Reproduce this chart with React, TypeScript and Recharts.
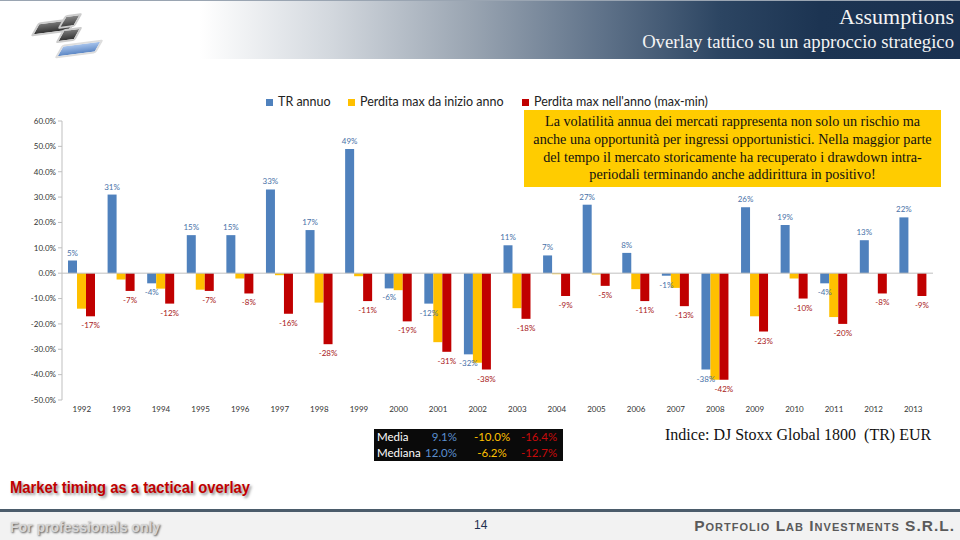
import React from 'react'
import { BarChart, Bar, XAxis, YAxis, ReferenceLine, LabelList } from 'recharts'

const years = ['1992', '1993', '1994', '1995', '1996', '1997', '1998', '1999', '2000', '2001', '2002', '2003', '2004', '2005', '2006', '2007', '2008', '2009', '2010', '2011', '2012', '2013']
const trAnnuo = [5, 31, -4, 15, 15, 33, 17, 49, -6, -12, -32, 11, 7, 27, 8, -1, -38, 26, 19, -4, 13, 22]
const perditaInizio = [-14.0, -2.5, -6.1, -6.5, -2.1, -0.8, -11.6, -1.2, -6.7, -27.2, -35.3, -13.8, -0.4, -0.5, -6.3, -5.8, -42.0, -17.0, -2.1, -17.3, 0, 0]
const perditaAnno = [-17, -7, -12, -7, -8, -16, -28, -11, -19, -31, -38, -18, -9, -5, -11, -13, -42, -23, -10, -20, -8, -9]
const yTicks = [-50, -40, -30, -20, -10, 0, 10, 20, 30, 40, 50, 60]

const legendItems = [
  { label: 'TR annuo', color: '#4F81BD', x: 266 },
  { label: 'Perdita max da inizio anno', color: '#FFC000', x: 348 },
  { label: "Perdita max nell'anno (max-min)", color: '#C00000', x: 522 },
]
const noteLines = [
  'La volatilità annua dei mercati rappresenta non solo un rischio ma',
  'anche una opportunità per ingressi opportunistici. Nella maggior parte',
  'del tempo il mercato storicamente ha recuperato i drawdown intra-',
  'periodali terminando anche addirittura in positivo!',
]
const statsRows = [
  { label: 'Media', values: ['9.1%', '-10.0%', '-16.4%'] },
  { label: 'Mediana', values: ['12.0%', '-6.2%', '-12.7%'] },
]
const statsColors = ['#5b8fd0', '#FFC000', '#c80a0a']

const data = years.map((year, i) => ({
  year,
  tr: trAnnuo[i],
  inizio: perditaInizio[i],
  anno: perditaAnno[i],
}))

const BLUE = '#4F81BD'
const YELLOW = '#FFC000'
const RED = '#C00000'

const makeLabel = (color: string) => (props: any) => {
  const { x, y, width, height, value } = props
  if (value == null) return null
  const top = Math.min(y, y + height)
  const bottom = Math.max(y, y + height)
  const cx = x + width / 2
  const ty = value >= 0 ? top - 8 : bottom + 9
  return (
    <text x={cx} y={ty} textAnchor="middle" dominantBaseline="central" fill={color} fontSize={8} fontFamily="Lato, 'Open Sans', sans-serif">
      {`${value}%`}
    </text>
  )
}

const sans = "Lato, 'Open Sans', sans-serif"
const serif = "'Liberation Serif', 'DejaVu Serif', serif"

export default function App() {
  return (
    <div style={{ position: 'absolute', left: 0, top: 0, width: 960, height: 540, background: '#fff', overflow: 'hidden' }}>
      {/* header band */}
      <div style={{
        position: 'absolute', left: 0, top: 0, width: 960, height: 58,
        background: 'linear-gradient(to right, #ffffff 0px, #ffffff 200px, #d3d8de 330px, #9aa5b2 470px, #60738a 600px, #2c4562 720px, #1c3452 820px, #1a3150 960px)',
        borderTop: '1px solid #9aa5b2',
      }} />
      {/* logo */}
      <div style={{ position: 'absolute', left: 34, top: 12, width: 70, height: 48 }}>
        <div style={{ position: 'absolute', left: 2, top: 8, width: 32, height: 10, background: 'linear-gradient(#777, #333)', border: '2px solid #ccc', transform: 'skewX(-35deg) rotate(-8deg)', borderRadius: 2 }} />
        <div style={{ position: 'absolute', left: 28, top: 2, width: 12, height: 10, background: 'linear-gradient(#888, #444)', border: '2px solid #ccc', transform: 'skewX(-35deg) rotate(-8deg)', borderRadius: 2 }} />
        <div style={{ position: 'absolute', left: 26, top: 16, width: 14, height: 10, background: 'linear-gradient(#777, #333)', border: '2px solid #ccc', transform: 'skewX(-35deg) rotate(-8deg)', borderRadius: 2 }} />
        <div style={{ position: 'absolute', left: 26, top: 30, width: 34, height: 10, background: 'linear-gradient(#a8c4ec, #5b86c4)', border: '2px solid #ddd', transform: 'skewX(-35deg) rotate(-8deg)', borderRadius: 2 }} />
      </div>
      <div style={{ position: 'absolute', right: 6, top: 4, fontFamily: serif, fontSize: 22, color: '#f4f4f4', lineHeight: '26px' }}>Assumptions</div>
      <div style={{ position: 'absolute', right: 6, top: 31, fontFamily: serif, fontSize: 18.7, color: '#f4f4f4', lineHeight: '22px' }}>Overlay tattico su un approccio strategico</div>

      {/* legend */}
      {legendItems.map(item => (
        <div key={item.label} style={{ position: 'absolute', left: item.x, top: 95, height: 14, lineHeight: '14px', display: 'flex', alignItems: 'center', fontFamily: sans, fontSize: 12.5, color: '#222', whiteSpace: 'nowrap' }}>
          <span style={{ display: 'inline-block', width: 7, height: 7, background: item.color, marginRight: 5 }} />
          {item.label}
        </div>
      ))}

      <div style={{ position: 'absolute', left: 0, top: 0 }}>
        <BarChart width={960} height={425} data={data} margin={{ top: 121, right: 27, bottom: 0, left: 0 }} barGap={0} barSize={9}>
          <XAxis dataKey="year" axisLine={false} tickLine={false} tickSize={4} tick={{ fill: '#333', fontSize: 8, fontFamily: sans }} height={25} interval={0} />
          <YAxis width={62} domain={[-50, 60]} ticks={yTicks} tickFormatter={(v: number) => `${v.toFixed(1)}%`} axisLine={{ stroke: '#bfbfbf' }} tickLine={{ stroke: '#bfbfbf' }} tickSize={4} tick={{ fill: '#333', fontSize: 8, fontFamily: sans }} allowDataOverflow />
          <ReferenceLine y={0} stroke="#bfbfbf" />
          <Bar dataKey="tr" fill={BLUE} isAnimationActive={false}>
            <LabelList dataKey="tr" content={makeLabel('#4a72a8')} />
          </Bar>
          <Bar dataKey="inizio" fill={YELLOW} isAnimationActive={false} />
          <Bar dataKey="anno" fill={RED} isAnimationActive={false}>
            <LabelList dataKey="anno" content={makeLabel('#a81818')} />
          </Bar>
        </BarChart>
      </div>

      {/* yellow note */}
      <div style={{
        position: 'absolute', left: 524, top: 110, width: 417, height: 77, background: '#FFCC00',
        fontFamily: serif, fontSize: 14.2, lineHeight: '17.7px', color: '#111', textAlign: 'center',
        display: 'flex', flexDirection: 'column', alignItems: 'center', justifyContent: 'center', whiteSpace: 'nowrap',
      }}>
        {noteLines.map(l => <div key={l}>{l}</div>)}
      </div>

      {/* stats table */}
      <div style={{ position: 'absolute', left: 374, top: 429, width: 189, height: 32, background: '#0a0a0a', fontFamily: sans, fontSize: 11.5, lineHeight: '16px' }}>
        {statsRows.map((row, r) => (
          <React.Fragment key={row.label}>
            <div style={{ position: 'absolute', left: 3, top: r * 16, color: '#fff' }}>{row.label}</div>
            <div style={{ position: 'absolute', right: 189 - 83, top: r * 16, color: statsColors[0] }}>{row.values[0]}</div>
            <div style={{ position: 'absolute', left: 98, width: 40, top: r * 16, textAlign: 'center', color: statsColors[1] }}>{row.values[1]}</div>
            <div style={{ position: 'absolute', left: 145, width: 40, top: r * 16, textAlign: 'center', color: statsColors[2] }}>{row.values[2]}</div>
          </React.Fragment>
        ))}
      </div>
      <div style={{ position: 'absolute', left: 665, top: 426, fontFamily: serif, fontSize: 16, color: '#111', whiteSpace: 'pre' }}>Indice: DJ Stoxx Global 1800  (TR) EUR</div>

      {/* section title */}
      <div style={{
        position: 'absolute', left: 10, top: 478, fontFamily: "'Liberation Sans', sans-serif",
        fontWeight: 700, fontSize: 17, color: '#c00000', textShadow: '2px 2px 3px rgba(0,0,0,0.45)', whiteSpace: 'nowrap',
        transform: 'scaleX(0.87)', transformOrigin: 'left center',
      }}>Market timing as a tactical overlay</div>

      {/* footer */}
      <div style={{ position: 'absolute', left: 0, top: 509, width: 960, height: 3, background: '#4b5c6b' }} />
      <div style={{ position: 'absolute', left: 0, top: 512, width: 960, height: 28, background: '#f2f2f2' }} />
      <div style={{ position: 'absolute', left: 10, top: 519, fontFamily: "'Liberation Sans', sans-serif", fontWeight: 700, fontSize: 14, color: '#d6d6d6', textShadow: '1px 1px 2px #555', whiteSpace: 'nowrap' }}>For professionals only</div>
      <div style={{ position: 'absolute', left: 474, top: 518, fontFamily: "'Liberation Sans', sans-serif", fontSize: 12, color: '#1f3050' }}>14</div>
      <div style={{ position: 'absolute', right: 5, top: 517, fontFamily: "'Liberation Sans', sans-serif", fontWeight: 700, fontSize: 15.5, letterSpacing: 1, fontVariant: 'small-caps', color: '#5a5a5a', whiteSpace: 'nowrap' }}>Portfolio Lab Investments S.R.L.</div>
    </div>
  )
}
